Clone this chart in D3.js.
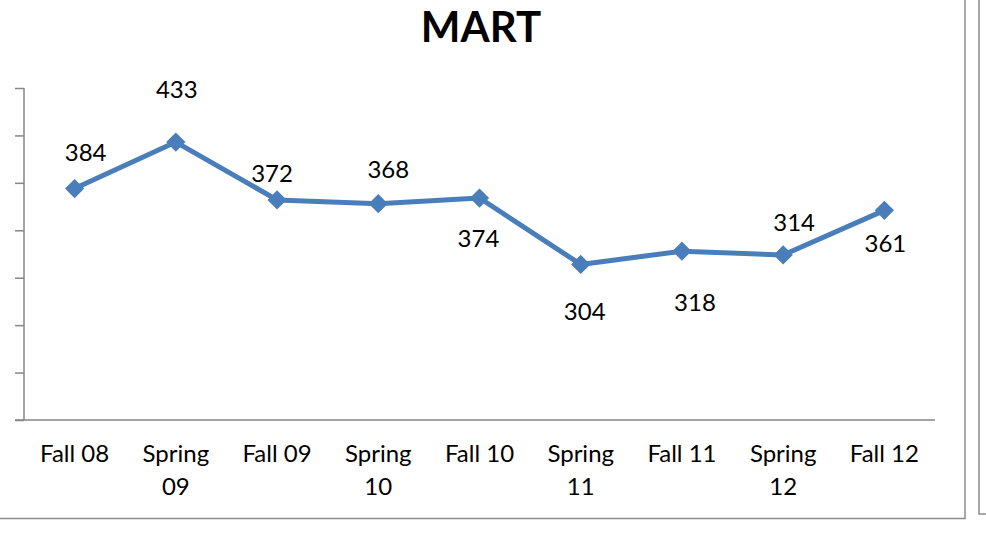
<!DOCTYPE html>
<html>
<head>
<meta charset="utf-8">
<script src="https://cdn.jsdelivr.net/npm/d3@7"></script>
<style>
  body { margin: 0; background: #fff; }
  text { font-family: Lato, "Open Sans", sans-serif; fill: #000; }
</style>
</head>
<body>
<div id="chart"></div>
<script>
// MART scores per term
var terms = ["Fall 08", "Spring 09", "Fall 09", "Spring 10", "Fall 10",
             "Spring 11", "Fall 11", "Spring 12", "Fall 12"];
var scores = [384, 433, 372, 368, 374, 304, 318, 314, 361];
// label placement relative to each marker (Excel labels were dragged by hand)
var labelShift = [[11, -28], [1, -44], [-5, -18], [10, -26], [-1, 49],
                  [4, 56], [13, 60], [11, -24], [1, 42]];
var yTicks = d3.range(140, 491, 50);

var W = 986, H = 558;
var plot = {left: 24, right: 935, top: 88, bottom: 420};

var svg = d3.select("#chart").append("svg")
  .attr("width", W)
  .attr("height", H);

// chart frames (this one, and the edge of the neighbour on the right)
svg.append("rect")
  .attr("x", -10).attr("y", -10)
  .attr("width", 975).attr("height", 528.5)
  .attr("fill", "none").attr("stroke", "#8c8c8c").attr("stroke-width", 1.5);
svg.append("rect")
  .attr("x", 979).attr("y", -10)
  .attr("width", 40).attr("height", 524)
  .attr("fill", "none").attr("stroke", "#8c8c8c").attr("stroke-width", 1.5);

svg.append("text")
  .attr("x", 481).attr("y", 42)
  .attr("text-anchor", "middle")
  .style("font-size", "42px")
  .style("font-weight", "bold")
  .text("MART");

var x = d3.scaleBand().domain(terms).range([plot.left, plot.right]).padding(0);
var y = d3.scaleLinear().domain([140, 490]).range([plot.bottom, plot.top]);
var cx = function (d) { return x(d) + x.bandwidth() / 2; };

// y axis: ticks only, no labels
var yAxis = svg.append("g")
  .attr("transform", "translate(" + plot.left + ",0)")
  .call(d3.axisLeft(y).tickValues(yTicks).tickSize(9).tickFormat(""));
yAxis.select(".domain").attr("stroke", "#868686").attr("stroke-width", 1.5)
  .attr("d", "M0," + plot.top + "V" + plot.bottom);
yAxis.selectAll(".tick line").attr("stroke", "#868686").attr("stroke-width", 1.5);

// x axis line
svg.append("line")
  .attr("x1", plot.left - 9).attr("x2", plot.right)
  .attr("y1", plot.bottom).attr("y2", plot.bottom)
  .attr("stroke", "#868686").attr("stroke-width", 1.5);

// category labels, wrapped when wider than the band
var catG = svg.append("g");
terms.forEach(function (t) {
  var txt = catG.append("text")
    .attr("x", cx(t)).attr("y", 462)
    .attr("text-anchor", "middle")
    .style("font-size", "24px")
    .text(t);
  if (txt.node().getComputedTextLength() > x.bandwidth() - 12) {
    var words = t.split(" ");
    txt.text(null);
    words.forEach(function (w, i) {
      txt.append("tspan").attr("x", cx(t)).attr("dy", i ? 33 : 0).text(w);
    });
  }
});

var pts = terms.map(function (t, i) { return {t: t, v: scores[i], s: labelShift[i]}; });

svg.append("path")
  .datum(pts)
  .attr("fill", "none")
  .attr("stroke", "#4a7ebb")
  .attr("stroke-width", 5)
  .attr("stroke-linejoin", "round")
  .attr("d", d3.line().x(function (d) { return cx(d.t); }).y(function (d) { return y(d.v); }));

svg.selectAll(".mk")
  .data(pts)
  .enter().append("path")
  .attr("class", "mk")
  .attr("d", d3.symbol().type(d3.symbolSquare).size(185))
  .attr("transform", function (d) {
    return "translate(" + cx(d.t) + "," + y(d.v) + ") rotate(45)";
  })
  .attr("fill", "#4a7ebb");

svg.selectAll(".lbl")
  .data(pts)
  .enter().append("text")
  .attr("class", "lbl")
  .attr("x", function (d) { return cx(d.t) + d.s[0]; })
  .attr("y", function (d) { return y(d.v) + d.s[1]; })
  .attr("text-anchor", "middle")
  .style("font-size", "24px")
  .text(function (d) { return d.v; });
</script>
</body>
</html>
